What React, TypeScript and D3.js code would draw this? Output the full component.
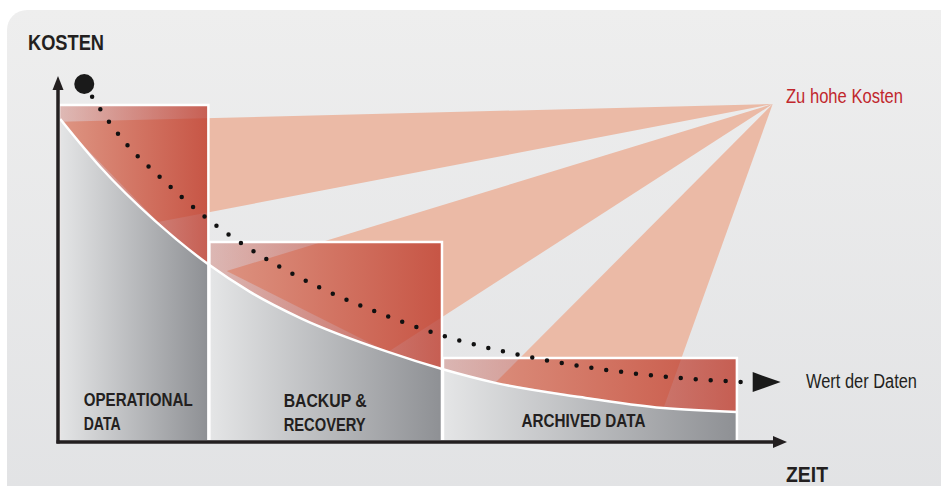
import * as d3 from "d3"
import { useEffect, useRef } from "react"

// Segmente entlang der Zeitachse (Zeit 0–100, Kosten 0–100)
const segmentLabels = [["OPERATIONAL", "DATA"], ["BACKUP &", "RECOVERY"], ["ARCHIVED DATA"]]
const segmentStart = [0, 20.6, 52.6]
const segmentEnd = [20.6, 52.6, 93]
const segmentCost = [92.0, 54.4, 22.5]

// Tatsächliche Kostenkurve
const curveTime = [0.3, 5.8, 13.3, 20.5, 26.3, 33.2, 45.2, 52.6, 59.9, 71.5, 82.9, 93]
const curveCost = [88.2, 75.0, 60.2, 48.4, 40.7, 33.5, 24.2, 19.5, 15.7, 11.8, 8.8, 7.7]

// Wert der Daten (gepunktete Linie)
const valueTime = [3.6, 4.7, 7.0, 9.6, 14.1, 20.5, 27.4, 34.8, 42.6, 52.5, 62.7, 73.2, 83.7, 94.1]
const valueLevel = [97.8, 94.2, 87.4, 80.8, 72.0, 60.7, 51.1, 42.9, 36.0, 28.8, 23.6, 19.8, 17.3, 15.9]
const valueArrowTime = 99

// "Zu hohe Kosten": Fächer vom Label zu den Kurvenabschnitten
const fanApex: [number, number] = [97.9, 92.3]
const fanFrom: [number, number][] = [[0.3, 87.4], [23.1, 46.4], [59.9, 15.7]]
const fanTo: [number, number][] = [[13.7, 59.9], [45.2, 24.2], [82.9, 8.5]]

const W = 941
const H = 486
const NARROW = "'Liberation Sans Narrow', 'Arial Narrow', 'Liberation Sans', sans-serif"
const INK = "#231f20"

const App = () => {
  const svgRef = useRef<SVGSVGElement | null>(null)

  useEffect(() => {
    if (!svgRef.current) return
    const svg = d3.select(svgRef.current)
    svg.selectAll("*").remove()

    const x = d3.scaleLinear().domain([0, 100]).range([58, 788])
    const y = d3.scaleLinear().domain([0, 100]).range([440, 76])

    const defs = svg.append("defs")

    // Panel background
    const bg = defs
      .append("linearGradient")
      .attr("id", "bg")
      .attr("x1", 0)
      .attr("y1", 0)
      .attr("x2", 0)
      .attr("y2", 1)
    bg.append("stop").attr("offset", 0).attr("stop-color", "#eeeeee")
    bg.append("stop").attr("offset", 1).attr("stop-color", "#e1e2e4")

    svg
      .append("rect")
      .attr("x", 7)
      .attr("y", 10)
      .attr("width", 980)
      .attr("height", 520)
      .attr("rx", 20)
      .attr("fill", "url(#bg)")

    // Fans (drawn under the semi-transparent red areas)
    svg
      .append("g")
      .selectAll("polygon")
      .data(fanFrom.map((f, i) => [fanApex, f, fanTo[i]]))
      .enter()
      .append("polygon")
      .attr("points", (d) => d.map((p) => `${x(p[0])},${y(p[1])}`).join(" "))
      .attr("fill", "#ebbaa6")

    const curvePts: [number, number][] = curveTime.map((t, i) => [t, curveCost[i]])

    const area = d3
      .area<[number, number]>()
      .x((d) => x(d[0]))
      .y0(y(0))
      .y1((d) => y(d[1]))
      .curve(d3.curveMonotoneX)

    segmentStart.forEach((s, i) => {
      const x0 = x(s)
      const x1 = x(segmentEnd[i])

      const red = defs
        .append("linearGradient")
        .attr("id", `red${i}`)
        .attr("gradientUnits", "userSpaceOnUse")
        .attr("x1", x0)
        .attr("x2", x1)
        .attr("y1", 0)
        .attr("y2", 0)
      red.append("stop").attr("offset", 0).attr("stop-color", "#be3c2d").attr("stop-opacity", 0.28)
      red.append("stop").attr("offset", 1).attr("stop-color", "#be3c2d").attr("stop-opacity", 0.8)

      const grey = defs
        .append("linearGradient")
        .attr("id", `grey${i}`)
        .attr("gradientUnits", "userSpaceOnUse")
        .attr("x1", x0)
        .attr("x2", x1)
        .attr("y1", 0)
        .attr("y2", 0)
      grey.append("stop").attr("offset", 0).attr("stop-color", "#e5e6e7")
      grey.append("stop").attr("offset", 1).attr("stop-color", "#8e9094")

      defs
        .append("clipPath")
        .attr("id", `clip${i}`)
        .append("rect")
        .attr("x", x0)
        .attr("y", y(segmentCost[i]))
        .attr("width", x1 - x0)
        .attr("height", y(0) - y(segmentCost[i]))

      const g = svg.append("g").attr("clip-path", `url(#clip${i})`)
      g.append("rect")
        .attr("x", x0)
        .attr("y", y(segmentCost[i]))
        .attr("width", x1 - x0)
        .attr("height", y(0) - y(segmentCost[i]))
        .attr("fill", `url(#red${i})`)
      g.append("path").attr("d", area(curvePts)).attr("fill", `url(#grey${i})`)
    })

    // White cost curve
    svg
      .append("path")
      .attr(
        "d",
        d3
          .line<[number, number]>()
          .x((d) => x(d[0]))
          .y((d) => y(d[1]))
          .curve(d3.curveMonotoneX)(curvePts),
      )
      .attr("fill", "none")
      .attr("stroke", "#fff")
      .attr("stroke-width", 2.5)

    // White outlines of the steps
    segmentStart.forEach((s, i) => {
      svg
        .append("path")
        .attr(
          "d",
          `M${x(s) + 1},${y(0)}V${y(segmentCost[i])}H${x(segmentEnd[i])}V${y(0)}`,
        )
        .attr("fill", "none")
        .attr("stroke", "#fff")
        .attr("stroke-width", 2.5)
    })

    // Axes
    const axisY = y(0) + 2
    svg
      .append("line")
      .attr("x1", x(0))
      .attr("x2", x(0))
      .attr("y1", axisY + 1.5)
      .attr("y2", y(100) + 12)
      .attr("stroke", INK)
      .attr("stroke-width", 3.5)
    svg
      .append("polygon")
      .attr("points", `${x(0)},${y(100)} ${x(0) - 5.5},${y(100) + 14} ${x(0) + 5.5},${y(100) + 14}`)
      .attr("fill", INK)
    svg
      .append("line")
      .attr("x1", x(0) - 1.5)
      .attr("x2", x(100) - 12)
      .attr("y1", axisY)
      .attr("y2", axisY)
      .attr("stroke", INK)
      .attr("stroke-width", 3.5)
    svg
      .append("polygon")
      .attr("points", `${x(100) - 1},${axisY} ${x(100) - 15},${axisY - 6} ${x(100) - 15},${axisY + 6}`)
      .attr("fill", INK)

    // Wert der Daten
    const valuePts: [number, number][] = valueTime.map((t, i) => [t, valueLevel[i]])
    svg
      .append("path")
      .attr(
        "d",
        d3
          .line<[number, number]>()
          .x((d) => x(d[0]))
          .y((d) => y(d[1]))
          .curve(d3.curveMonotoneX)(valuePts),
      )
      .attr("fill", "none")
      .attr("stroke", "#111")
      .attr("stroke-width", 4.5)
      .attr("stroke-linecap", "round")
      .attr("stroke-dasharray", "0 15")
    svg
      .append("circle")
      .attr("cx", x(valuePts[0][0]))
      .attr("cy", y(valuePts[0][1]))
      .attr("r", 10)
      .attr("fill", "#1a1a1a")
    const last = valueLevel[valueLevel.length - 1]
    const tipX = x(valueArrowTime)
    svg
      .append("polygon")
      .attr("points", `${tipX},${y(last)} ${tipX - 28},${y(last) - 10} ${tipX - 28},${y(last) + 10}`)
      .attr("fill", "#1a1a1a")

    // Texts
    const text = (
      t: string,
      tx: number,
      ty: number,
      size: number,
      len: number,
      weight: string,
      fill: string,
    ) =>
      svg
        .append("text")
        .attr("x", tx)
        .attr("y", ty)
        .attr("textLength", len)
        .attr("lengthAdjust", "spacingAndGlyphs")
        .style("font-family", NARROW)
        .style("font-size", `${size}px`)
        .style("font-weight", weight)
        .attr("fill", fill)
        .text(t)

    text("KOSTEN", 28, 50, 22, 76, "700", INK)
    text("ZEIT", 786, 482, 22, 42, "700", INK)
    text("Zu hohe Kosten", 786, 103, 20, 117, "400", "#c1272d")
    text("Wert der Daten", 806, 388, 20, 111, "400", INK)

    const labelWidths = [[109, 37], [83, 82], [124]]
    const labelBase = [406, 407, 427]
    segmentLabels.forEach((lines, i) => {
      const mid = (x(segmentStart[i]) + x(segmentEnd[i])) / 2
      const left = mid - Math.max(...labelWidths[i]) / 2 + (i === 0 ? 5 : i === 2 ? -6 : 0)
      lines.forEach((l, j) => {
        text(l, left, labelBase[i] + j * 24, 19, labelWidths[i][j], "700", INK)
      })
    })
  }, [])

  return (
    <svg
      ref={svgRef}
      width={W}
      height={H}
      style={{ position: "absolute", left: 0, top: 0, background: "#fff" }}
    />
  )
}

export default App
